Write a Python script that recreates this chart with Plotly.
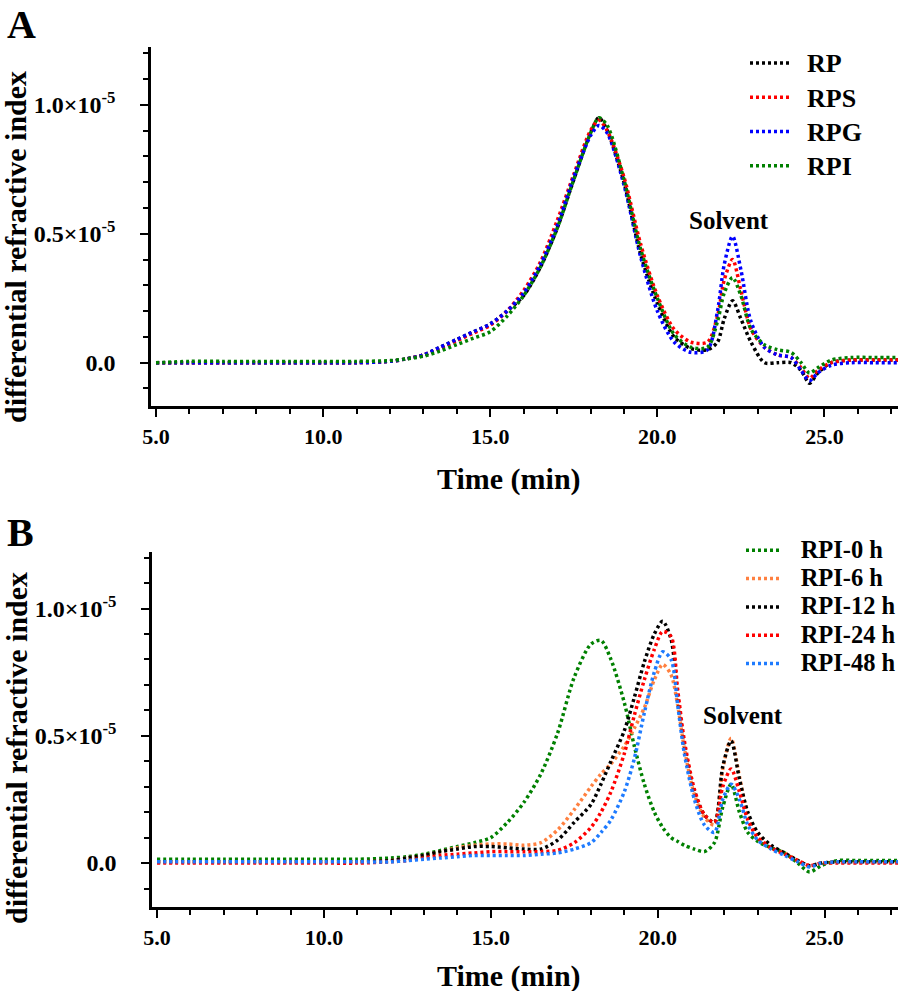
import plotly.graph_objects as go

# ---------------- data (y values in units of 1e-5) ----------------
xA = [5, 6, 7, 8, 9, 10, 11, 12, 12.5, 13, 13.5, 14, 14.5, 15, 15.5, 16, 16.5, 17, 17.5, 18,
      18.25, 18.5, 19, 19.5, 20, 20.5, 21, 21.5, 21.8, 22.0, 22.25, 22.5, 22.8, 23.2, 23.6,
      24.0, 24.3, 24.55, 24.8, 25.2, 25.8, 26.5, 27.2]
RP = [0, 0, 0, 0, 0, 0, 0, 0.005, 0.015, 0.03, 0.06, 0.09, 0.12, 0.15, 0.20, 0.26, 0.37, 0.52,
      0.71, 0.89, 0.95, 0.90, 0.70, 0.42, 0.23, 0.10, 0.055, 0.05, 0.08, 0.17, 0.24, 0.17, 0.08,
      0.0, 0.0, 0.0, -0.03, -0.08, -0.04, 0.0, 0.01, 0.01, 0.01]
RPS = [0, 0, 0, 0, 0, 0, 0, 0.005, 0.015, 0.03, 0.055, 0.085, 0.115, 0.145, 0.20, 0.28, 0.39,
       0.55, 0.73, 0.90, 0.94, 0.90, 0.72, 0.46, 0.26, 0.13, 0.08, 0.08, 0.18, 0.32, 0.40, 0.28,
       0.13, 0.06, 0.03, 0.02, -0.02, -0.06, -0.03, 0.0, 0.01, 0.01, 0.01]
RPG = [0, 0, 0, 0, 0, 0, 0, 0.005, 0.015, 0.03, 0.06, 0.09, 0.12, 0.15, 0.20, 0.27, 0.38, 0.53,
       0.72, 0.88, 0.92, 0.89, 0.69, 0.41, 0.20, 0.08, 0.04, 0.05, 0.20, 0.38, 0.49, 0.36, 0.16,
       0.06, 0.03, 0.02, -0.03, -0.07, -0.04, -0.01, 0.0, 0.0, 0.0]
RPI = [0, 0.005, 0.005, 0.005, 0.005, 0.005, 0.005, 0.008, 0.015, 0.025, 0.045, 0.07, 0.095,
       0.12, 0.18, 0.26, 0.37, 0.52, 0.71, 0.89, 0.95, 0.92, 0.71, 0.44, 0.25, 0.11, 0.06, 0.06,
       0.16, 0.27, 0.33, 0.26, 0.13, 0.07, 0.05, 0.04, 0.0, -0.04, -0.02, 0.01, 0.02, 0.02, 0.02]
namesA = ["RP", "RPS", "RPG", "RPI"]
colorsA = ["#000000", "#FF0000", "#0000FF", "#008000"]

xB = [5, 6, 7, 8, 9, 10, 11, 12, 12.5, 13, 13.5, 14, 14.5, 15, 15.5, 16, 16.5, 17, 17.5, 18,
      18.3, 18.6, 19, 19.3, 19.6, 19.9, 20.15, 20.4, 20.6, 20.8, 21.1, 21.4, 21.7, 21.95, 22.2,
      22.45, 22.7, 23.0, 23.4, 23.8, 24.2, 24.55, 24.9, 25.4, 26.0, 26.6, 27.2]
RPI_0h = [0.015, 0.015, 0.015, 0.015, 0.015, 0.015, 0.015, 0.02, 0.025, 0.035, 0.05, 0.065,
          0.08, 0.10, 0.16, 0.24, 0.35, 0.51, 0.73, 0.86, 0.875, 0.80, 0.63, 0.46, 0.31, 0.20,
          0.14, 0.10, 0.085, 0.07, 0.055, 0.045, 0.08, 0.22, 0.31, 0.20, 0.12, 0.085, 0.06,
          0.04, 0.0, -0.035, -0.01, 0.01, 0.01, 0.01, 0.01]
RPI_6h = [0.005, 0.005, 0.005, 0.005, 0.005, 0.005, 0.005, 0.01, 0.02, 0.03, 0.045, 0.06, 0.07,
          0.075, 0.075, 0.07, 0.08, 0.13, 0.21, 0.30, 0.35, 0.39, 0.46, 0.53, 0.61, 0.72, 0.78,
          0.74, 0.62, 0.45, 0.27, 0.18, 0.15, 0.37, 0.49, 0.34, 0.19, 0.11, 0.06, 0.04, 0.01,
          -0.01, 0.0, 0.005, 0.005, 0.005, 0.005]
RPI_12h = [0.005, 0.005, 0.005, 0.005, 0.005, 0.005, 0.005, 0.01, 0.02, 0.03, 0.045, 0.055,
           0.065, 0.065, 0.06, 0.055, 0.055, 0.09, 0.16, 0.23, 0.31, 0.40, 0.52, 0.65, 0.79,
           0.90, 0.95, 0.88, 0.65, 0.46, 0.28, 0.19, 0.16, 0.38, 0.48, 0.33, 0.20, 0.12, 0.07,
           0.04, 0.01, -0.01, 0.0, 0.005, 0.005, 0.005, 0.005]
RPI_24h = [0, 0, 0, 0, 0, 0, 0, 0.005, 0.01, 0.02, 0.03, 0.035, 0.04, 0.045, 0.045, 0.045,
           0.045, 0.05, 0.08, 0.14, 0.20, 0.28, 0.43, 0.58, 0.72, 0.84, 0.91, 0.89, 0.68, 0.48,
           0.29, 0.19, 0.16, 0.30, 0.37, 0.28, 0.17, 0.10, 0.06, 0.035, 0.01, -0.01, 0.0, 0.0,
           0.0, 0.0, 0.0]
RPI_48h = [0.005, 0.005, 0.005, 0.005, 0.005, 0.005, 0.005, 0.005, 0.01, 0.015, 0.02, 0.025,
           0.03, 0.03, 0.03, 0.03, 0.035, 0.04, 0.055, 0.08, 0.12, 0.17, 0.28, 0.41, 0.59, 0.75,
           0.83, 0.80, 0.62, 0.43, 0.25, 0.15, 0.12, 0.25, 0.31, 0.25, 0.15, 0.09, 0.055, 0.03,
           0.005, -0.015, 0.0, 0.005, 0.005, 0.005, 0.005]
namesB = ["RPI-0 h", "RPI-6 h", "RPI-12 h", "RPI-24 h", "RPI-48 h"]
colorsB = ["#008000", "#FF8040", "#000000", "#FF0000", "#1E7BFF"]

x_tickvals = [5, 10, 15, 20, 25]
x_ticktext = ["5.0", "10.0", "15.0", "20.0", "25.0"]
y_tickvals = [0, 0.5, 1.0]
y_ticktext = ["0.0", "0.5×10<sup>-5</sup>", "1.0×10<sup>-5</sup>"]

FONT = "Liberation Serif"
DASH = "3px,3px"

fig = go.Figure()
for name, ys, c in zip(namesA, [RP, RPS, RPG, RPI], colorsA):
    fig.add_trace(go.Scatter(x=xA, y=ys, mode="lines",
                             name="\u00a0\u00a0" + '<span style="font-size:26px">' + name + "</span>",
                             line=dict(color=c, width=3.5, dash=DASH, shape="spline", smoothing=0.8),
                             xaxis="x", yaxis="y", legend="legend"))
for name, ys, c in zip(namesB, [RPI_0h, RPI_6h, RPI_12h, RPI_24h, RPI_48h], colorsB):
    fig.add_trace(go.Scatter(x=xB, y=ys, mode="lines",
                             name="\u00a0\u00a0\u00a0" + '<span style="font-size:24.5px">' + name + "</span>",
                             line=dict(color=c, width=3.5, dash=DASH, shape="spline", smoothing=0.8),
                             xaxis="x2", yaxis="y2", legend="legend2"))

def xax(domain, anchor):
    return dict(domain=domain, anchor=anchor, range=[4.85, 27.2], automargin=False,
                tickmode="array", tickvals=x_tickvals, ticktext=x_ticktext,
                ticks="outside", ticklen=8, tickwidth=2, tickcolor="black",
                showline=True, linewidth=2.5, linecolor="black", mirror=False,
                showgrid=False, zeroline=False, ticklabelstandoff=1,
                tickfont=dict(family=FONT, size=22, color="black", weight="bold"),
                minor=dict(dtick=1, tick0=5, ticks="outside", ticklen=5, tickwidth=2,
                           tickcolor="black", showgrid=False))

def yax(domain, anchor, rng):
    return dict(domain=domain, anchor=anchor, range=rng, automargin=False,
                tickmode="array", tickvals=y_tickvals, ticktext=y_ticktext,
                ticks="outside", ticklen=8, tickwidth=2, tickcolor="black",
                showline=True, linewidth=2.5, linecolor="black", mirror=False,
                showgrid=False, zeroline=False, ticklabelstandoff=20,
                tickfont=dict(family=FONT, size=24, color="black", weight="bold"),
                minor=dict(dtick=0.1, tick0=0, ticks="outside", ticklen=5, tickwidth=2,
                           tickcolor="black", showgrid=False))

W, H = 898, 991
fig.update_layout(
    width=W, height=H, margin=dict(l=0, r=0, t=0, b=0, autoexpand=False),
    paper_bgcolor="white", plot_bgcolor="white",
    xaxis=xax([151 / W, 1], "y"),
    yaxis=yax([1 - 406 / H, 1 - 47 / H], "x", [-0.168, 1.224]),
    xaxis2=xax([152 / W, 1], "y2"),
    yaxis2=yax([1 - 907 / H, 1 - 552 / H], "x2", [-0.1725, 1.222]),
    legend=dict(x=745 / W, y=1 - 41 / H, xanchor="left", yanchor="top",
                bgcolor="rgba(0,0,0,0)", itemwidth=40,
                font=dict(family=FONT, size=24, color="black", weight="bold")),
    legend2=dict(x=741 / W, y=1 - 531 / H, xanchor="left", yanchor="top",
                 bgcolor="rgba(0,0,0,0)", itemwidth=35,
                 font=dict(family=FONT, size=19.5, color="black", weight="bold")),
)

ann_font = dict(family=FONT, color="black", weight="bold")
annotations = [
    dict(text="A", x=21 / W, y=1 - 25 / H, font=dict(size=40, **ann_font)),
    dict(text="B", x=20 / W, y=1 - 532 / H, font=dict(size=40, **ann_font)),
    dict(text="differential refractive index", x=16 / W, y=1 - 247 / H, textangle=-90,
         font=dict(size=30, **ann_font)),
    dict(text="differential refractive index", x=16 / W, y=1 - 748 / H, textangle=-90,
         font=dict(size=30, **ann_font)),
    dict(text="Time (min)", x=509 / W, y=1 - 479 / H, font=dict(size=30, **ann_font)),
    dict(text="Time (min)", x=509 / W, y=1 - 976 / H, font=dict(size=30, **ann_font)),
]
for a in annotations:
    a.update(xref="paper", yref="paper", showarrow=False, xanchor="center", yanchor="middle")
annotations += [
    dict(text="Solvent", x=22.15, y=0.553, xref="x", yref="y", showarrow=False,
         font=dict(size=25, **ann_font)),
    dict(text="Solvent", x=22.55, y=0.58, xref="x2", yref="y2", showarrow=False,
         font=dict(size=25, **ann_font)),
]
fig.update_layout(annotations=annotations)

fig.write_html("out.html", config={"displayModeBar": False},
               post_script="document.body.style.margin='0';document.body.style.padding='0';"
                           "document.body.style.overflow='hidden';")
